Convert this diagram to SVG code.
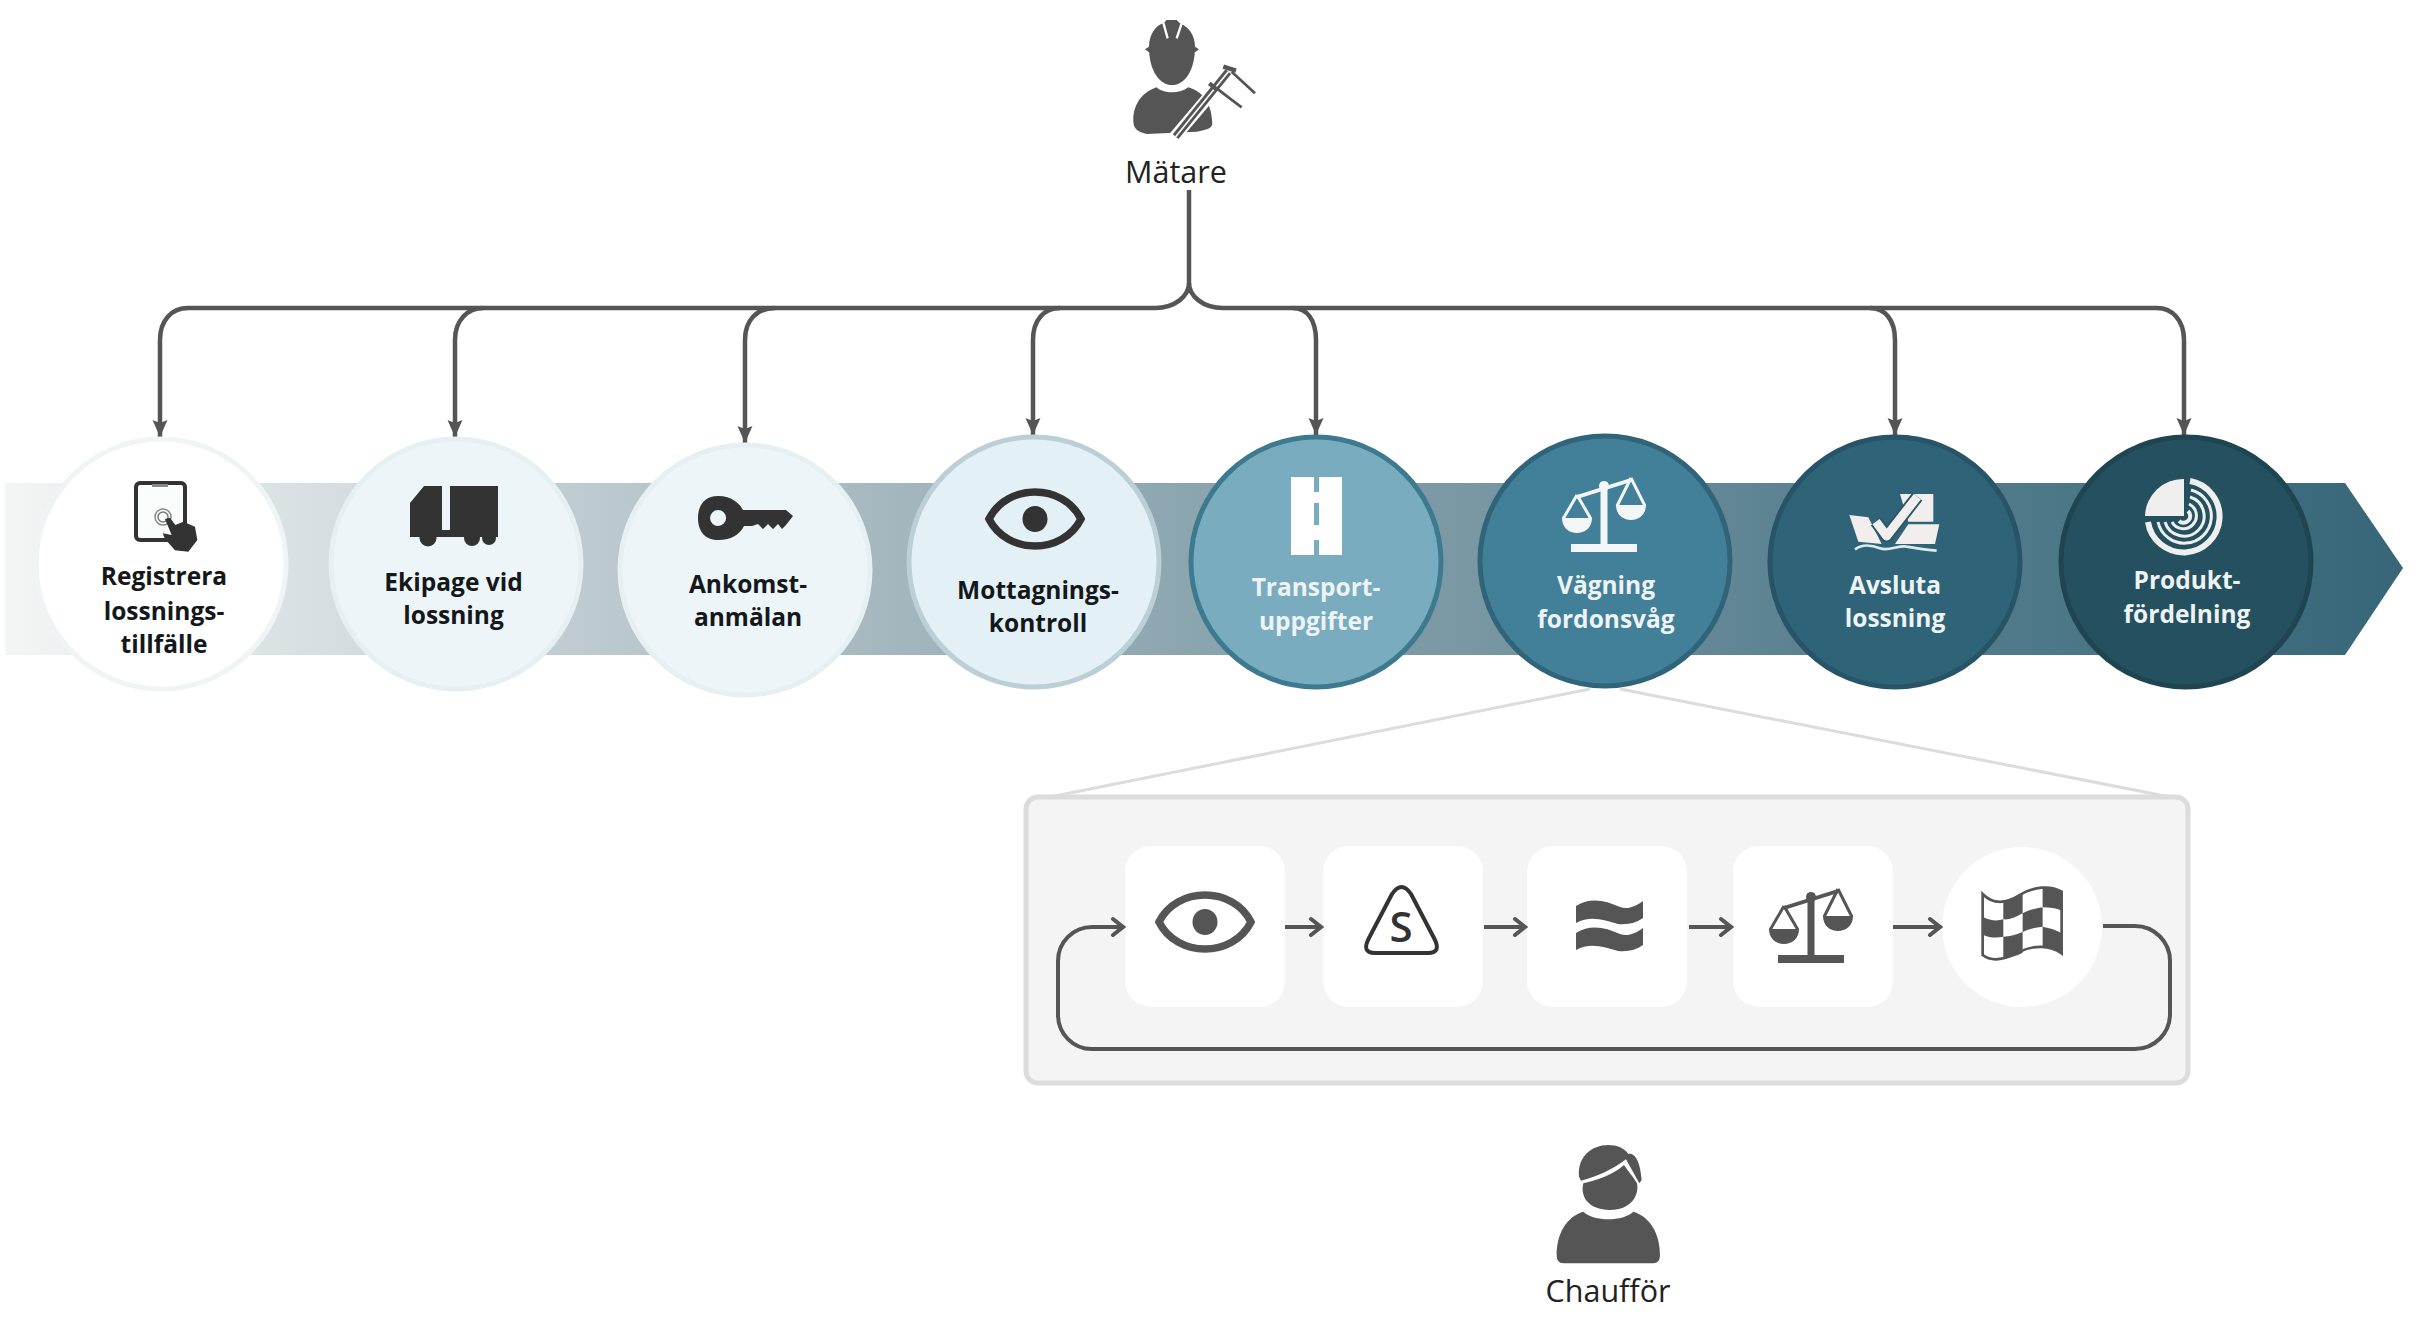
<svg xmlns="http://www.w3.org/2000/svg" width="2434" height="1330" viewBox="0 0 2434 1330">
<style>
text{font-family:"Open Sans","Noto Sans","Liberation Sans",sans-serif;text-anchor:middle}
.lbl{font-size:24.5px;font-weight:700}
.dark{fill:#14181a}.light{fill:#eef3f5}
.who{font-size:30.5px;fill:#222}
.conn{fill:none;stroke:#555;stroke-width:4.5}
.flow{fill:none;stroke:#555;stroke-width:4}
.ink{fill:#333}.gray{fill:#555}
.tile{fill:#fff}
</style>
<defs>
<linearGradient id="band" x1="0" x2="1" y1="0" y2="0">
<stop offset="0" stop-color="#f4f5f5"/><stop offset=".13" stop-color="#d7dfe2"/><stop offset=".25" stop-color="#bcc9ce"/><stop offset=".37" stop-color="#a5b7be"/><stop offset=".49" stop-color="#8ca6b0"/><stop offset=".61" stop-color="#7998a4"/><stop offset=".73" stop-color="#5f8494"/><stop offset=".85" stop-color="#4d7888"/><stop offset="1" stop-color="#366678"/>
</linearGradient>
<marker id="head" markerUnits="userSpaceOnUse" markerWidth="18" markerHeight="18" refX="17" refY="9" orient="auto"><path d="M0 1.500L17 9L0 16.500L3 9Z" fill="#555"/></marker>
<marker id="open" markerUnits="userSpaceOnUse" markerWidth="16" markerHeight="22" refX="13" refY="11" orient="auto"><path d="M3 3L13 11L3 19" fill="none" stroke="#555" stroke-width="4" stroke-linecap="round"/></marker>
<g id="eye"><path d="M-46 0C-28-36 28-36 46 0C28 36-28 36-46 0Z" fill="none" stroke="currentColor" stroke-width="7.500"/><ellipse cx="0" cy="0" rx="12.500" ry="13" fill="currentColor"/></g>
<g id="scale"><rect x="-3.500" y="-66" width="7" height="66"/><rect x="-33" y="-4" width="66" height="8"/><path d="M-27-53L27-70L27-66L-27-49Z"/><path d="M-27-53L-41-29M-27-53L-13-29M27-70L13-42M27-70L41-42" fill="none" stroke="currentColor" stroke-width="3"/><path d="M-42-30H-12C-12-10-42-10-42-30ZM12-43H42C42-23 12-23 12-43Z"/><circle cx="0" cy="-62" r="5"/></g>
</defs>

<path id="band-arrow" d="M5 483H2345L2403 568L2345 655H5Z" fill="url(#band)"/>

<g id="connectors">
<path class="conn" d="M1189 190V283"/>
<path class="conn" d="M1189 283C1189 296 1175 308 1155 308H188C172 308 160 320 160 340V437" marker-end="url(#head)"/>
<path class="conn" d="M483 308C468 308 455 320 455 340V437" marker-end="url(#head)"/>
<path class="conn" d="M775 308C757 308 745 320 745 340V443" marker-end="url(#head)"/>
<path class="conn" d="M1060 308C1044 308 1033 320 1033 340V435" marker-end="url(#head)"/>
<path class="conn" d="M1189 283C1189 296 1203 308 1223 308H2157C2172 308 2184 320 2184 340V435" marker-end="url(#head)"/>
<path class="conn" d="M1293 308C1307 308 1316 320 1316 340V435" marker-end="url(#head)"/>
<path class="conn" d="M1870 308C1885 308 1895 320 1895 340V435" marker-end="url(#head)"/>
<path d="M1590 689L1050 797M1620 689L2170 797" fill="none" stroke="#dcdcdc" stroke-width="3"/>
</g>

<g id="n1"><circle cx="161" cy="564" r="125" fill="#fff" stroke="#f0f4f5" stroke-width="5"/>
<rect x="136" y="483" width="49" height="57" rx="4" fill="#fbfcfc" stroke="#333" stroke-width="4"/>
<rect x="152" y="484" width="16" height="3" fill="#888"/>
<circle cx="163" cy="517" r="8" fill="none" stroke="#888" stroke-width="1.500"/><circle cx="163" cy="517" r="5" fill="none" stroke="#777" stroke-width="1.500"/>
<g transform="translate(120 475) scale(.3333)"><path class="ink" d="M135 132L150 128L166 150L190 140L225 155L232 195L205 230L165 226L135 192L128 175L155 180Z"/></g>
<text class="lbl dark" x="164" y="585">Registrera</text><text class="lbl dark" x="164" y="620">lossnings-</text><text class="lbl dark" x="164" y="653">tillfälle</text></g>

<g id="n2"><circle cx="456" cy="564" r="125" fill="#eef5f8" stroke="#e6eff2" stroke-width="5"/>
<path class="ink" d="M424 486H442V537H410V503ZM450 486H498V537H450Z"/><path class="ink" d="M441 530H452V537H441Z"/>
<circle class="ink" cx="428" cy="538" r="8.500"/><circle class="ink" cx="472" cy="538" r="8"/><circle class="ink" cx="489" cy="538" r="7"/>
<text class="lbl dark" x="453.500" y="591">Ekipage vid</text><text class="lbl dark" x="453.500" y="624">lossning</text></g>

<g id="n3"><circle cx="745" cy="570" r="125" fill="#eef5f8" stroke="#e6eff2" stroke-width="5"/>
<path class="ink" fill-rule="evenodd" d="M718 496C732 496 740 504 743 510H786L793 516L786 525L782 529L778 524L773 529L768 524L763 529L758 524L752 526H744C740 534 732 540 718 540C704 540 698 530 698 518C698 506 704 496 718 496ZM718 510A8 8 0 1 0 718.100 526A8 8 0 1 0 718 510Z"/>
<text class="lbl dark" x="748" y="593">Ankomst-</text><text class="lbl dark" x="748" y="626">anmälan</text></g>

<g id="n4"><circle cx="1034" cy="562" r="125" fill="#e3f0f6" stroke="#bccfd6" stroke-width="5"/>
<use href="#eye" x="1035" y="519" color="#333"/>
<text class="lbl dark" x="1038" y="599">Mottagnings-</text><text class="lbl dark" x="1038" y="632">kontroll</text></g>

<g id="n5"><circle cx="1316" cy="562" r="125" fill="#7aacc0" stroke="#3e7a8f" stroke-width="5"/>
<rect x="1291" y="477" width="51" height="78" fill="#fff"/>
<path d="M1316.500 477V492M1316.500 503V525M1316.500 540V555" stroke="#7aacc0" stroke-width="5"/>
<text class="lbl light" x="1316" y="596">Transport-</text><text class="lbl light" x="1316" y="630">uppgifter</text></g>

<g id="n6"><circle cx="1605" cy="561" r="125" fill="#427f98" stroke="#2f6479" stroke-width="5"/>
<use href="#scale" x="1604" y="548" color="#f2f6f7" fill="#f2f6f7"/>
<text class="lbl light" x="1606" y="594">Vägning</text><text class="lbl light" x="1606" y="628">fordonsvåg</text></g>

<g id="n7"><circle cx="1895" cy="562" r="125" fill="#2f6478" stroke="#275467" stroke-width="5"/>
<g transform="translate(1840 480) scale(.3333)">
<path d="M180 42H280V125H205Z" fill="#f3eeee"/>
<path d="M28 105L85 112L125 192L55 185ZM205 133H298L285 192H165Z" fill="#f3eeee"/>
<path d="M108 125L140 168L232 50" fill="none" stroke="#2a5568" stroke-width="38" stroke-linejoin="round"/>
<path d="M108 125L140 168L232 50" fill="none" stroke="#f3eeee" stroke-width="27" stroke-linejoin="round"/>
<path d="M45 208C70 190 95 195 120 205C145 215 175 195 200 200C230 205 260 210 290 212" fill="none" stroke="#dcecee" stroke-width="8"/>
</g>
<text class="lbl light" x="1895" y="594">Avsluta</text><text class="lbl light" x="1895" y="627">lossning</text></g>

<g id="n8"><circle cx="2186" cy="562" r="125" fill="#24505f" stroke="#1f4452" stroke-width="5"/>
<path d="M2184 479V516H2145A38 38 0 0 1 2184 479Z" fill="#efefef"/>
<g fill="none" stroke="#efefef">
<path stroke-width="6" d="M2190 481A36 36 0 1 1 2148 522"/>
<path stroke-width="3" d="M2191 490A27 27 0 1 1 2158 522"/>
<path stroke-width="3" d="M2190 497A20 20 0 1 1 2165 522"/>
<path stroke-width="3" d="M2189 504A13 13 0 1 1 2172 522"/>
<path stroke-width="4" d="M2188 511A6 6 0 1 1 2179 521"/>
</g>
<text class="lbl light" x="2187" y="589">Produkt-</text><text class="lbl light" x="2187" y="623">fördelning</text></g>

<g id="inset-box"><rect x="1026" y="797" width="1162" height="286" rx="12" fill="#f4f4f4" stroke="#dcdcdc" stroke-width="5"/></g>

<g id="s1"><rect class="tile" x="1125" y="846" width="160" height="161" rx="26"/><use href="#eye" x="1205" y="922" color="#555"/></g>
<g id="s2"><rect class="tile" x="1323" y="846" width="160" height="161" rx="26"/>
<path d="M1392 894Q1401.500 880 1411 894L1434 938Q1442 953 1428 953H1375Q1361 953 1369 938Z" fill="none" stroke="#333" stroke-width="4" stroke-linejoin="round"/>
<text x="1401" y="942" font-size="42" font-weight="600" fill="#333">S</text></g>
<g id="s3"><rect class="tile" x="1527" y="846" width="160" height="161" rx="26"/>
<path class="gray" d="M1576 906C1590 897 1605 900 1620 907C1628 910 1636 906 1643 901V918C1636 923 1628 925 1618 924C1605 920 1590 915 1576 923ZM1576 933C1590 924 1605 927 1620 934C1628 937 1636 933 1643 928V945C1636 950 1628 952 1618 951C1605 947 1590 942 1576 950Z"/></g>
<g id="s4"><rect class="tile" x="1733" y="846" width="160" height="161" rx="26"/><use href="#scale" x="1811" y="959" color="#555" fill="#555"/></g>
<g id="s5"><circle class="tile" cx="2022" cy="927" r="80"/>
<g transform="translate(1700 780) scale(.3333)">
<path d="M848 342C880 375 920 370 960 345C1000 320 1050 315 1085 335V520C1050 495 1000 495 960 515C920 535 880 550 848 525Z" fill="#fff" stroke="#555" stroke-width="8"/>
<path class="gray" d="M910 362C930 365 945 355 968 342V400C945 412 930 420 910 418ZM1028 322C1050 322 1070 325 1085 335V392C1070 384 1050 382 1028 382ZM848 410C870 422 890 424 910 418V470C890 474 870 474 848 464ZM968 400C985 390 1005 385 1028 382V440C1005 442 985 448 968 456ZM910 470C930 470 950 464 968 456V518C950 528 930 532 910 538ZM1028 440C1050 444 1070 450 1085 460V520C1070 508 1050 500 1028 498Z"/>
</g></g>

<g id="inner-connectors">
<path class="flow" d="M1285 927H1321" marker-end="url(#open)"/>
<path class="flow" d="M1484 927H1525" marker-end="url(#open)"/>
<path class="flow" d="M1689 927H1731" marker-end="url(#open)"/>
<path class="flow" d="M1893 927H1940" marker-end="url(#open)"/>
<path class="flow" d="M2103 926H2135A35 35 0 0 1 2170 961V1014A35 35 0 0 1 2135 1049H1092A34 34 0 0 1 1058 1015V961A34 34 0 0 1 1092 927H1123" marker-end="url(#open)"/>
</g>

<g id="matare"><g transform="translate(1000 0) scale(.3333)">
<path class="gray" d="M447 140C447 215 480 255 516 255C552 255 585 215 585 140Z"/>
<path class="gray" d="M447 140C447 100 470 75 492 68L500 60H530L540 70C565 80 585 105 585 140L597 148L585 157H447L435 148Z"/>
<path d="M490 68L503 115M545 70L530 115" stroke="#fff" stroke-width="7" fill="none"/>
<path class="gray" d="M470 262C490 282 540 282 565 262C610 275 635 310 637 370C637 385 620 390 590 395L440 402C410 395 400 385 400 360C400 310 430 275 470 262Z"/>
<path d="M525 410L690 215" stroke="#fff" stroke-width="36" fill="none"/>
<path d="M527 410L685 215" stroke="#555" stroke-width="22" fill="none"/>
<path d="M527 410L685 215" stroke="#fff" stroke-width="5" fill="none"/>
<path d="M670 200L708 212M628 250L650 268" stroke="#555" stroke-width="13" fill="none"/>
<path d="M695 215L765 280M650 265L725 322" stroke="#555" stroke-width="8" fill="none"/>
</g>
<text class="who" x="1176" y="183">Mätare</text></g>

<g id="chauffor"><g transform="translate(1500 1130) scale(.3333)">
<path class="gray" d="M250 160C290 150 340 135 372 105C385 125 400 140 411 160C418 195 395 240 330 240C265 240 240 200 250 160Z"/>
<path class="gray" d="M237 140C232 80 275 45 325 45C350 45 375 55 385 72C400 68 420 85 425 150L418 160L378 88C340 118 290 140 243 152Z"/>
<path class="gray" d="M250 245C280 275 370 275 400 245C450 260 480 310 480 375Q480 400 460 400H190Q170 400 170 375C170 310 200 260 250 245Z"/>
</g>
<text class="who" x="1608" y="1302">Chaufför</text></g>
</svg>
